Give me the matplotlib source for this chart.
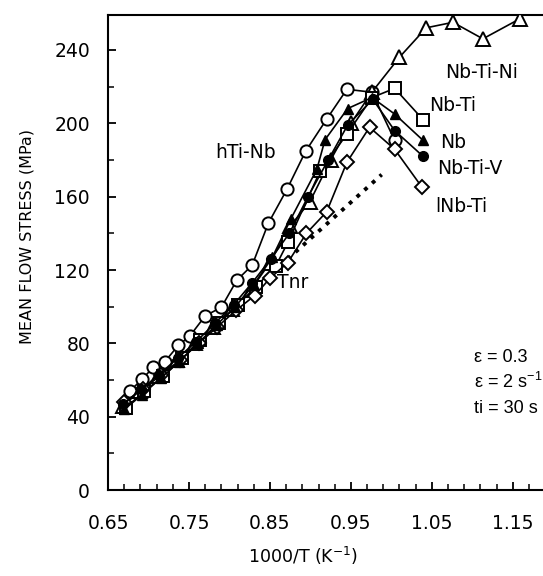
import numpy as np
import matplotlib
matplotlib.use("Agg")
import matplotlib.pyplot as plt
from matplotlib.ticker import FixedLocator, MultipleLocator

plt.rcParams['font.family'] = ['DejaVu Sans']
plt.rcParams['mathtext.default'] = 'regular'

# ---- data ----
hti_x = [0.677, 0.692, 0.706, 0.720, 0.737, 0.751, 0.770, 0.790, 0.809, 0.828, 0.848, 0.871, 0.894, 0.920, 0.945, 0.976, 1.004]
hti_y = [54, 60.5, 67, 70, 79, 84, 95, 99.7, 114.4, 122.6, 145.5, 164, 184.7, 202.2, 218.5, 216.9, 190.7]

ni_x = [0.668, 0.690, 0.712, 0.735, 0.757, 0.780, 0.803, 0.826, 0.850, 0.875, 0.899, 0.925, 0.950, 0.976, 1.010, 1.043, 1.076, 1.113, 1.159]
ni_y = [46, 54, 62, 71, 80, 89, 99, 109, 124, 144, 157, 180, 200, 217, 236, 252, 255, 246, 257]

nbti_x = [0.672, 0.695, 0.718, 0.741, 0.764, 0.787, 0.810, 0.833, 0.857, 0.872, 0.912, 0.945, 0.976, 1.004, 1.039]
nbti_y = [45, 54, 62, 72, 82, 91, 101, 111, 122, 135, 174, 194, 214, 219, 202]

nb_x = [0.670, 0.692, 0.715, 0.738, 0.761, 0.784, 0.807, 0.830, 0.853, 0.876, 0.908, 0.918, 0.946, 0.976, 1.004, 1.039]
nb_y = [44, 52, 61, 70, 80, 90, 100, 112, 127, 148, 175, 191, 208, 214, 205, 190.7]

nbtiv_x = [0.669, 0.691, 0.713, 0.736, 0.759, 0.782, 0.805, 0.828, 0.851, 0.874, 0.897, 0.922, 0.946, 0.977, 1.004, 1.039]
nbtiv_y = [47, 55, 63, 72, 81, 91, 101, 113, 126, 140, 160, 180, 199, 213, 196, 182]

lnb_x = [0.670, 0.693, 0.716, 0.739, 0.762, 0.785, 0.808, 0.831, 0.850, 0.872, 0.895, 0.920, 0.945, 0.973, 1.004, 1.038]
lnb_y = [48, 55, 63, 71, 80, 89, 98, 106, 115.5, 124, 140, 151.7, 178.7, 197.8, 185.8, 165]

tnr_x = [0.872, 0.988]
tnr_y = [126, 172]

xticks = [0.65, 0.75, 0.85, 0.95, 1.05, 1.15]
xtick_labels = ["0.65", "0.75", "0.85", "0.95", "1.05", "1.15"]
yticks = [0, 40, 80, 120, 160, 200, 240]

fig = plt.figure(figsize=(5.43, 5.76), dpi=100)
ax = fig.add_axes([0.199, 0.149, 0.82, 0.825])

lw = 1.2
ax.plot(hti_x, hti_y, '-o', color='black', mfc='white', mec='black', ms=8.8, lw=lw, mew=1.4, zorder=3)
ax.plot(ni_x, ni_y, '-^', color='black', mfc='white', mec='black', ms=10, lw=lw, mew=1.4, zorder=3)
ax.plot(nbti_x, nbti_y, '-s', color='black', mfc='white', mec='black', ms=8.8, lw=lw, mew=1.4, zorder=3)
ax.plot(nb_x, nb_y, '-^', color='black', mfc='black', mec='black', ms=7, lw=lw, zorder=4)
ax.plot(nbtiv_x, nbtiv_y, '-o', color='black', mfc='black', mec='black', ms=7, lw=lw, zorder=4)
ax.plot(lnb_x, lnb_y, '-D', color='black', mfc='white', mec='black', ms=7, lw=lw, mew=1.4, zorder=3)
ax.plot(tnr_x, tnr_y, ':', color='black', lw=2.8, zorder=2)

fs = 13.5
ax.text(1.066, 227.8, "Nb-Ti-Ni", fontsize=fs, va='center')
ax.text(1.047, 209.8, "Nb-Ti", fontsize=fs, va='center')
ax.text(1.060, 189.6, "Nb", fontsize=fs, va='center')
ax.text(1.057, 175.5, "Nb-Ti-V", fontsize=fs, va='center')
ax.text(1.054, 154.8, "lNb-Ti", fontsize=fs, va='center')
ax.text(0.783, 184.0, "hTi-Nb", fontsize=fs, va='center')
ax.text(0.859, 113.4, "Tnr", fontsize=fs, va='center')
fs2 = 13
side = dict(fontsize=fs2, va='center', family=['Liberation Sans', 'DejaVu Sans'])
ax.text(1.102, 72.5, "ε = 0.3", **side)
ax.text(1.102, 58.9, "ε = 2 s$^{-1}$", **side)
ax.text(1.102, 44.7, "ti = 30 s", **side)

ax.set_xlim(0.65, 1.2)
ax.set_ylim(0, 259)
ax.xaxis.set_major_locator(FixedLocator(xticks))
ax.set_xticklabels(xtick_labels)
ax.xaxis.set_minor_locator(FixedLocator(np.arange(0.65, 1.2, 0.02)))
ax.yaxis.set_major_locator(FixedLocator(yticks))
ax.yaxis.set_minor_locator(MultipleLocator(20))

ax.tick_params(axis='both', which='major', direction='in', length=6, width=1.3, labelsize=13.5)
ax.tick_params(axis='both', which='minor', direction='in', length=4, width=1.1)
ax.tick_params(axis='x', which='major', pad=17)
ax.tick_params(axis='y', which='major', pad=13)

ax.spines['right'].set_visible(False)
for s in ['left', 'bottom', 'top']:
    ax.spines[s].set_linewidth(1.5)

ax.set_ylabel("MEAN FLOW STRESS (MPa)", fontsize=11.5)
ax.yaxis.set_label_coords(-0.165, 0.533)
ax.set_xlabel("1000/T (K$^{-1}$)", fontsize=12.5)
ax.xaxis.set_label_coords(0.438, -0.115)

fig.savefig("out.png", dpi=100)
